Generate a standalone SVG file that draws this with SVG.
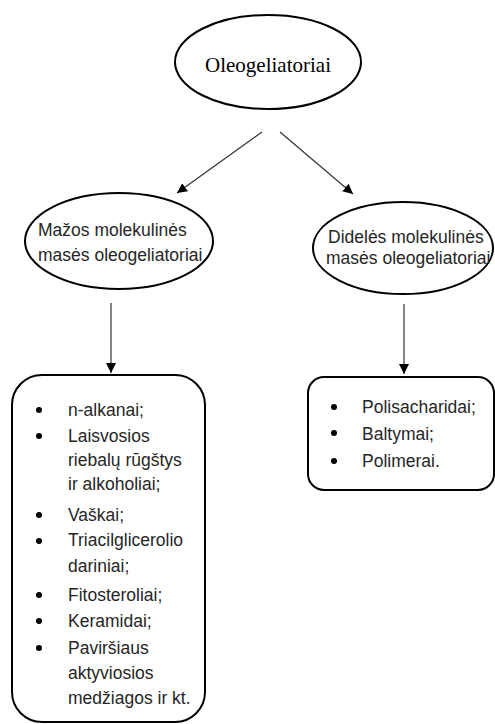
<svg xmlns="http://www.w3.org/2000/svg" width="495" height="724" viewBox="0 0 495 724">
<style>
.shape{fill:#fff;stroke:#000;stroke-width:2}
.conn{stroke:#333;stroke-width:1.2;fill:none;marker-end:url(#ah)}
.t{font-family:"Liberation Sans",Arial,sans-serif;font-size:17.5px;fill:#262626}
.s{font-family:"Liberation Serif","Times New Roman",serif;font-size:21px;fill:#000}
.b{fill:#000}
</style>
<defs>
<marker id="ah" viewBox="0 0 10 10" refX="10" refY="5" markerWidth="10" markerHeight="10" markerUnits="userSpaceOnUse" orient="auto">
<path d="M0,0 L10,5 L0,10 Z" fill="#000"/>
</marker>
</defs>
<rect width="495" height="724" fill="#fff"/>
<g id="connectors">
<line class="conn" x1="262" y1="132" x2="177" y2="193"/>
<line class="conn" x1="280" y1="132" x2="353" y2="194"/>
<line class="conn" x1="111" y1="303" x2="111" y2="373"/>
<line class="conn" x1="404" y1="304" x2="404" y2="374"/>
</g>
<g id="root">
<ellipse class="shape" cx="268" cy="62" rx="93" ry="47"/>
<text class="s" x="268" y="72" text-anchor="middle">Oleogeliatoriai</text>
</g>
<g id="small">
<ellipse class="shape" cx="119" cy="241" rx="94" ry="48"/>
<text class="t" x="38" y="236">Mažos molekulinės</text>
<text class="t" x="38" y="261">masės oleogeliatoriai</text>
</g>
<g id="large">
<ellipse class="shape" cx="403" cy="248" rx="90" ry="46"/>
<text class="t" x="328" y="243">Didelės molekulinės</text>
<text class="t" x="326" y="264">masės oleogeliatoriai</text>
</g>
<g id="small-list">
<rect class="shape" x="12" y="375" width="193" height="347" rx="30" ry="30"/>
<circle class="b" cx="39" cy="410" r="3"/>
<text class="t" x="68" y="416">n-alkanai;</text>
<circle class="b" cx="39" cy="436" r="3"/>
<text class="t" x="68" y="442">Laisvosios</text>
<text class="t" x="68" y="466">riebalų rūgštys</text>
<text class="t" x="68" y="490">ir alkoholiai;</text>
<circle class="b" cx="39" cy="515" r="3"/>
<text class="t" x="68" y="521">Vaškai;</text>
<circle class="b" cx="39" cy="541" r="3"/>
<text class="t" x="68" y="546">Triacilglicerolio</text>
<text class="t" x="68" y="572">dariniai;</text>
<circle class="b" cx="39" cy="595" r="3"/>
<text class="t" x="68" y="601">Fitosteroliai;</text>
<circle class="b" cx="39" cy="621" r="3"/>
<text class="t" x="68" y="627">Keramidai;</text>
<circle class="b" cx="39" cy="648" r="3"/>
<text class="t" x="68" y="654">Paviršiaus</text>
<text class="t" x="68" y="679">aktyviosios</text>
<text class="t" x="68" y="704">medžiagos ir kt.</text>
</g>
<g id="large-list">
<rect class="shape" x="308" y="377" width="186" height="113" rx="16" ry="16"/>
<circle class="b" cx="334" cy="407" r="3"/>
<text class="t" x="362" y="413">Polisacharidai;</text>
<circle class="b" cx="334" cy="433" r="3"/>
<text class="t" x="362" y="440">Baltymai;</text>
<circle class="b" cx="334" cy="461" r="3"/>
<text class="t" x="362" y="467">Polimerai.</text>
</g>
</svg>
